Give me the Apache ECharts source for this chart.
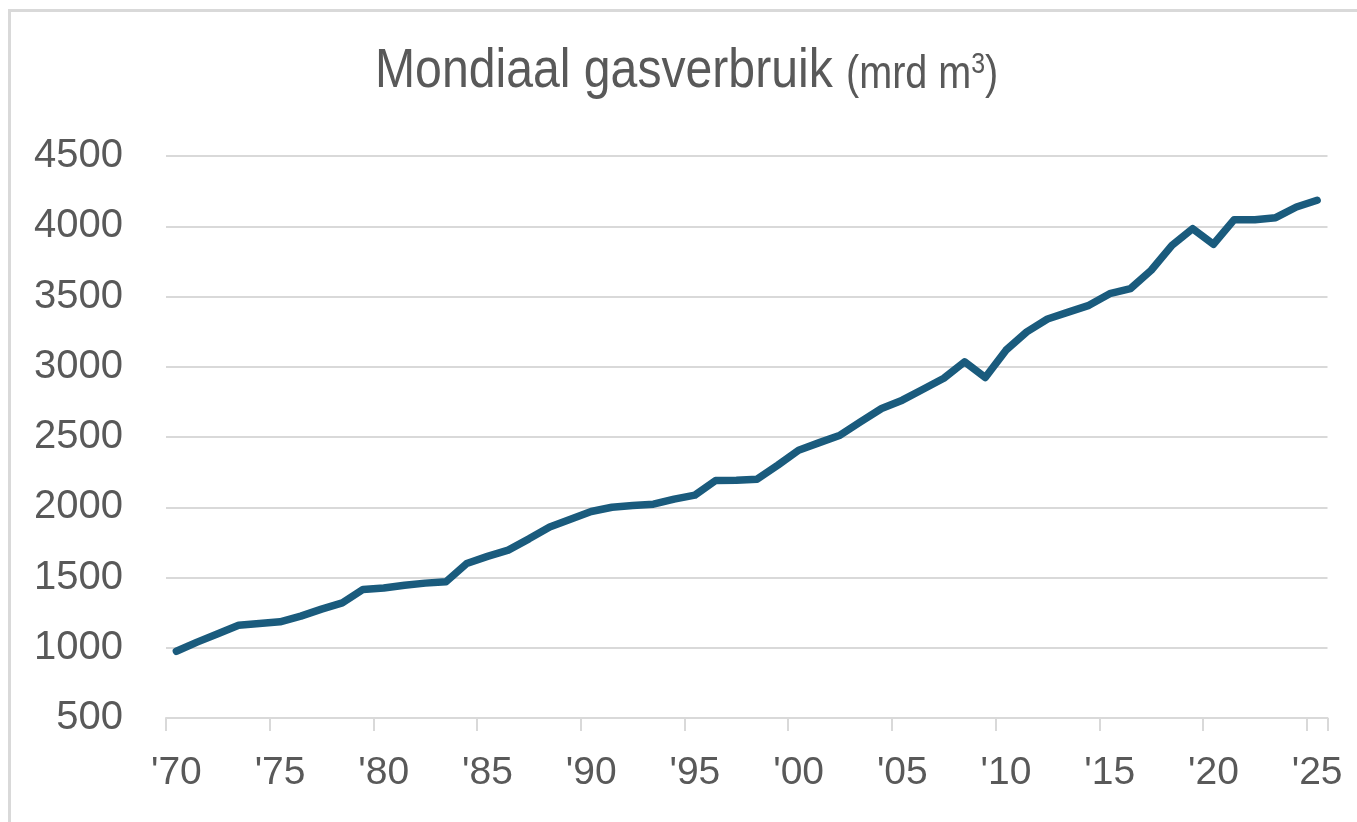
<!DOCTYPE html>
<html>
<head>
<meta charset="utf-8">
<script src="https://cdn.jsdelivr.net/npm/echarts@6/dist/echarts.min.js"></script>
<style>
  html, body { margin: 0; padding: 0; background: #ffffff; }
  #frame { position: absolute; left: 8px; top: 9px; width: 1400px; height: 900px; border: 3px solid #d9d9d9; box-sizing: border-box; }
  #chart { position: absolute; left: 0; top: 0; width: 1357px; height: 822px; }
</style>
</head>
<body>
<div id="frame"></div>
<div id="chart"></div>
<script>
const years = ["1970","1971","1972","1973","1974","1975","1976","1977","1978","1979",
  "1980","1981","1982","1983","1984","1985","1986","1987","1988","1989",
  "1990","1991","1992","1993","1994","1995","1996","1997","1998","1999",
  "2000","2001","2002","2003","2004","2005","2006","2007","2008","2009",
  "2010","2011","2012","2013","2014","2015","2016","2017","2018","2019",
  "2020","2021","2022","2023","2024","2025"];
const gasConsumption = [975,1040,1100,1160,1172,1185,1225,1275,1320,1415,
  1425,1445,1460,1470,1600,1650,1695,1775,1860,1915,
  1970,2000,2012,2022,2058,2086,2190,2192,2200,2300,
  2406,2460,2513,2610,2703,2762,2840,2918,3035,2923,
  3118,3248,3340,3389,3437,3520,3556,3687,3864,3983,
  3872,4047,4047,4061,4137,4185];
const titleMain = "Mondiaal gasverbruik";
const titleUnit = "(mrd m";
const titleSup = "3";
const titleClose = ")";
const yMin = 500, yMax = 4500, yStep = 500;

const chart = echarts.init(document.getElementById('chart'), null, { renderer: 'canvas' });
const textColor = '#595959';
const gridColor = '#d9d9d9';
const titleFont = "'Liberation Sans', Arial, sans-serif";
chart.setOption({
  animation: false,
  backgroundColor: 'transparent',
  graphic: [
    {
      type: 'text',
      x: 375, y: 72,
      scaleX: 0.86,
      style: {
        text: titleMain,
        fontFamily: titleFont,
        fontSize: 56,
        fontWeight: 'normal',
        fill: textColor,
        align: 'left',
        verticalAlign: 'middle'
      }
    },
    {
      type: 'text',
      x: 846, y: 75,
      scaleX: 0.86,
      style: {
        text: '{b|' + titleUnit + '}{c|' + titleSup + '}{b|' + titleClose + '}',
        align: 'left',
        verticalAlign: 'middle',
        rich: {
          b: { fontFamily: titleFont, fontSize: 46, fontWeight: 'normal', fill: textColor, lineHeight: 60 },
          c: { fontFamily: titleFont, fontSize: 29, fontWeight: 'normal', fill: textColor, lineHeight: 60, verticalAlign: 'top', padding: [5, 0, 0, 0] }
        }
      }
    }
  ],
  grid: { left: 166, right: 29.5, top: 156, bottom: 104, containLabel: false },
  xAxis: {
    type: 'category',
    data: years,
    boundaryGap: true,
    axisLine: { show: true, lineStyle: { color: gridColor, width: 2 } },
    axisTick: { show: true, interval: 4, alignWithLabel: false, length: 13, lineStyle: { color: gridColor, width: 2 } },
    axisLabel: {
      interval: 4,
      margin: 36,
      color: textColor,
      fontFamily: "'Liberation Sans', Arial, sans-serif",
      fontSize: 39,
      formatter: function (v) { return "'" + v.slice(2); }
    },
    splitLine: { show: false }
  },
  yAxis: {
    type: 'value',
    min: yMin, max: yMax, interval: yStep,
    axisLine: { show: false },
    axisTick: { show: false },
    axisLabel: {
      margin: 43,
      color: textColor,
      fontFamily: "'Liberation Sans', Arial, sans-serif",
      fontSize: 40,
      formatter: function (v) { return String(v); }
    },
    splitLine: { show: true, lineStyle: { color: gridColor, width: 2 } }
  },
  series: [{
    type: 'line',
    data: gasConsumption,
    symbol: 'none',
    smooth: false,
    lineStyle: { color: '#1a5b7d', width: 7.5, cap: 'round', join: 'round' },
    z: 5
  }]
});
</script>
</body>
</html>
